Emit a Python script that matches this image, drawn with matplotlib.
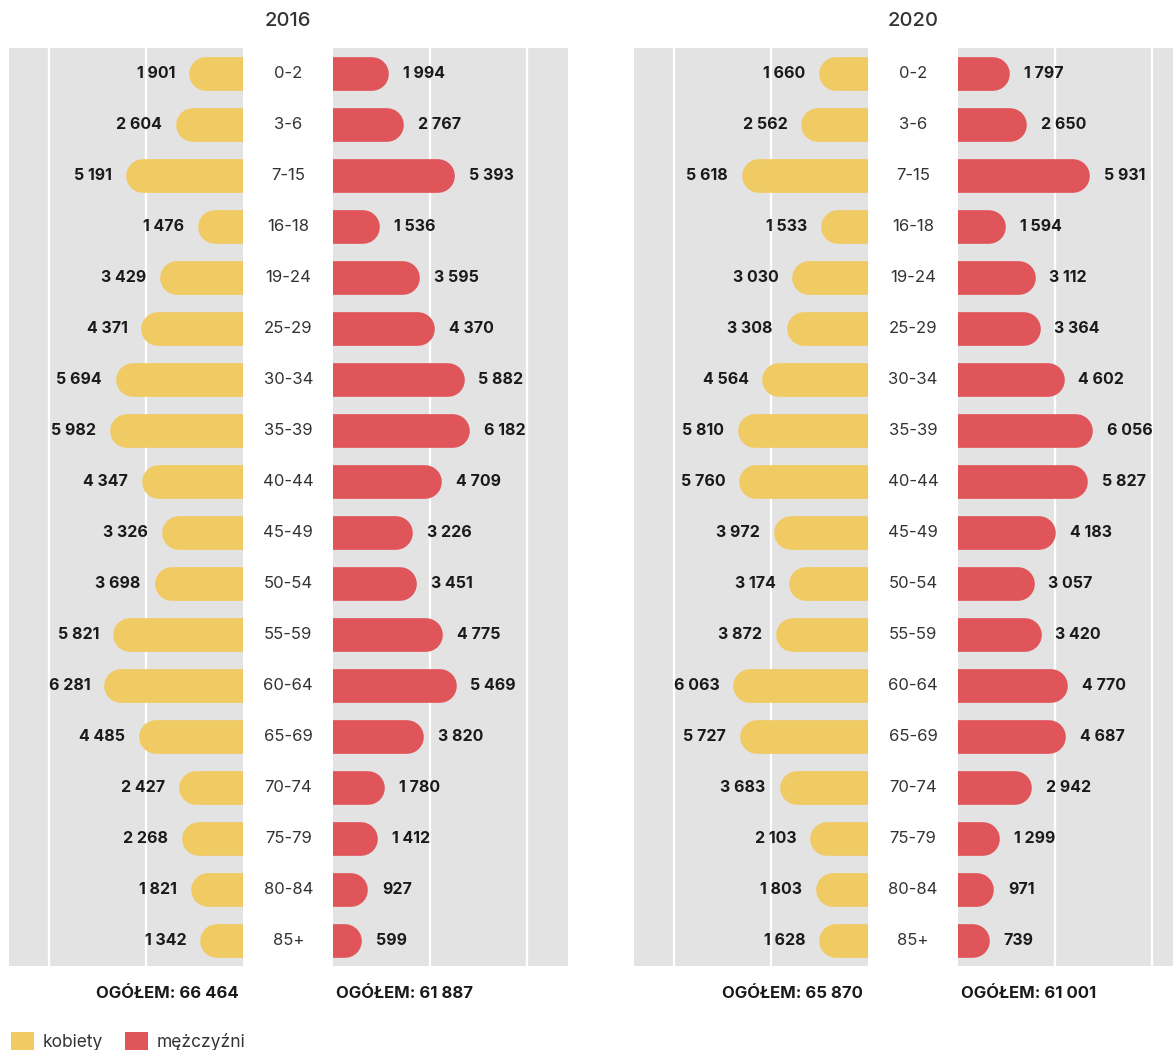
import matplotlib
matplotlib.use("Agg")
import matplotlib.pyplot as plt
from matplotlib.patches import Patch

plt.rcParams['font.family'] = ['Inter', 'DejaVu Sans']

# ---------------- data ----------------
ages = ['0-2', '3-6', '7-15', '16-18', '19-24', '25-29', '30-34', '35-39', '40-44',
        '45-49', '50-54', '55-59', '60-64', '65-69', '70-74', '75-79', '80-84', '85+']
women_2016 = [1901, 2604, 5191, 1476, 3429, 4371, 5694, 5982, 4347,
              3326, 3698, 5821, 6281, 4485, 2427, 2268, 1821, 1342]
men_2016 = [1994, 2767, 5393, 1536, 3595, 4370, 5882, 6182, 4709,
            3226, 3451, 4775, 5469, 3820, 1780, 1412, 927, 599]
women_2020 = [1660, 2562, 5618, 1533, 3030, 3308, 4564, 5810, 5760,
              3972, 3174, 3872, 6063, 5727, 3683, 2103, 1803, 1628]
men_2020 = [1797, 2650, 5931, 1594, 3112, 3364, 4602, 6056, 5827,
            4183, 3057, 3420, 4770, 4687, 2942, 1299, 971, 739]
years = ['2016', '2020']
totals_women = [66464, 65870]
totals_men = [61887, 61001]
legend_labels = ['kobiety', 'mężczyźni']

# ---------------- style ----------------
W, H = 1173, 1050
DPI = 100
YELLOW = '#f0ca62'
RED = '#e0555a'
GRAY = '#e3e3e3'
TXT = '#1a1a1a'
AGE_TXT = '#333333'
XMAX = 12060
BAR_PX = 33.7
BAR_LW = BAR_PX * 72 / DPI
CAP = BAR_PX / 2

fig = plt.figure(figsize=(W / DPI, H / DPI), dpi=DPI)
fig.patch.set_facecolor('white')


def px_axes(x0, x1, y_top, y_bot):
    return fig.add_axes([x0 / W, 1 - y_bot / H, (x1 - x0) / W, (y_bot - y_top) / H])


def fmt(v):
    return f"{v:,}".replace(",", " ")


Y_TOP, Y_BOT = 48.3, 966.0
panels = [
    (9.3, 243.3, 333.3, 567.5, women_2016, men_2016),
    (634.0, 868.0, 958.2, 1192.4, women_2020, men_2020),
]

for k, (lx0, lx1, rx0, rx1, women, men) in enumerate(panels):
    axw = px_axes(lx0, lx1, Y_TOP, Y_BOT)
    axm = px_axes(rx0, rx1, Y_TOP, Y_BOT)
    axc = px_axes(lx1, rx0, Y_TOP, Y_BOT)

    for ax, vals, col, side in [(axw, women, YELLOW, -1), (axm, men, RED, 1)]:
        ax.set_facecolor(GRAY)
        if side < 0:
            ax.set_xlim(XMAX, 0)
        else:
            ax.set_xlim(0, XMAX)
        ax.set_ylim(len(ages) - 0.5, -0.5)
        ax.set_xticks([5000, 10000])
        ax.set_yticks([])
        ax.grid(axis='x', color='white', lw=1.6)
        ax.set_axisbelow(True)
        ax.tick_params(length=0, labelbottom=False)
        for s in ax.spines.values():
            s.set_visible(False)
        for i, v in enumerate(vals):
            ax.plot([0, v], [i, i], color=col, lw=BAR_LW, solid_capstyle='round', zorder=3)
            ax.annotate(fmt(v), xy=(v, i), xytext=(side * (CAP + 14), 0),
                        textcoords='offset pixels', ha='left' if side > 0 else 'right',
                        va='center', fontsize=11.5, fontweight='bold', color=TXT)

    axw.annotate(f"OGÓŁEM: {fmt(totals_women[k])}", xy=(1, 0), xycoords='axes fraction',
                 xytext=(-5, -27), textcoords='offset pixels', ha='right', va='center',
                 fontsize=12, fontweight='bold', color=TXT)
    axm.annotate(f"OGÓŁEM: {fmt(totals_men[k])}", xy=(0, 0), xycoords='axes fraction',
                 xytext=(3, -27), textcoords='offset pixels', ha='left', va='center',
                 fontsize=12, fontweight='bold', color=TXT)

    axc.set_xlim(0, 1)
    axc.set_ylim(len(ages) - 0.5, -0.5)
    axc.axis('off')
    for i, a in enumerate(ages):
        axc.text(0.5, i, a, ha='center', va='center', fontsize=12, color=AGE_TXT)
    axc.annotate(years[k], xy=(0.5, 1), xycoords='axes fraction', xytext=(0, 27.5),
                 textcoords='offset pixels', ha='center', va='center',
                 fontsize=14.5, fontweight='medium', color='#333333')

handles = [Patch(facecolor=YELLOW, label=legend_labels[0]),
           Patch(facecolor=RED, label=legend_labels[1])]
fig.legend(handles=handles, loc='center left', bbox_to_anchor=(11 / W, 1 - 1041.7 / H),
           ncol=2, frameon=False, fontsize=12.5, handlelength=1.3, handleheight=1.3,
           handletextpad=0.5, columnspacing=1.3, borderpad=0, borderaxespad=0,
           labelcolor=AGE_TXT)

fig.savefig('out.png', dpi=DPI, facecolor='white')
